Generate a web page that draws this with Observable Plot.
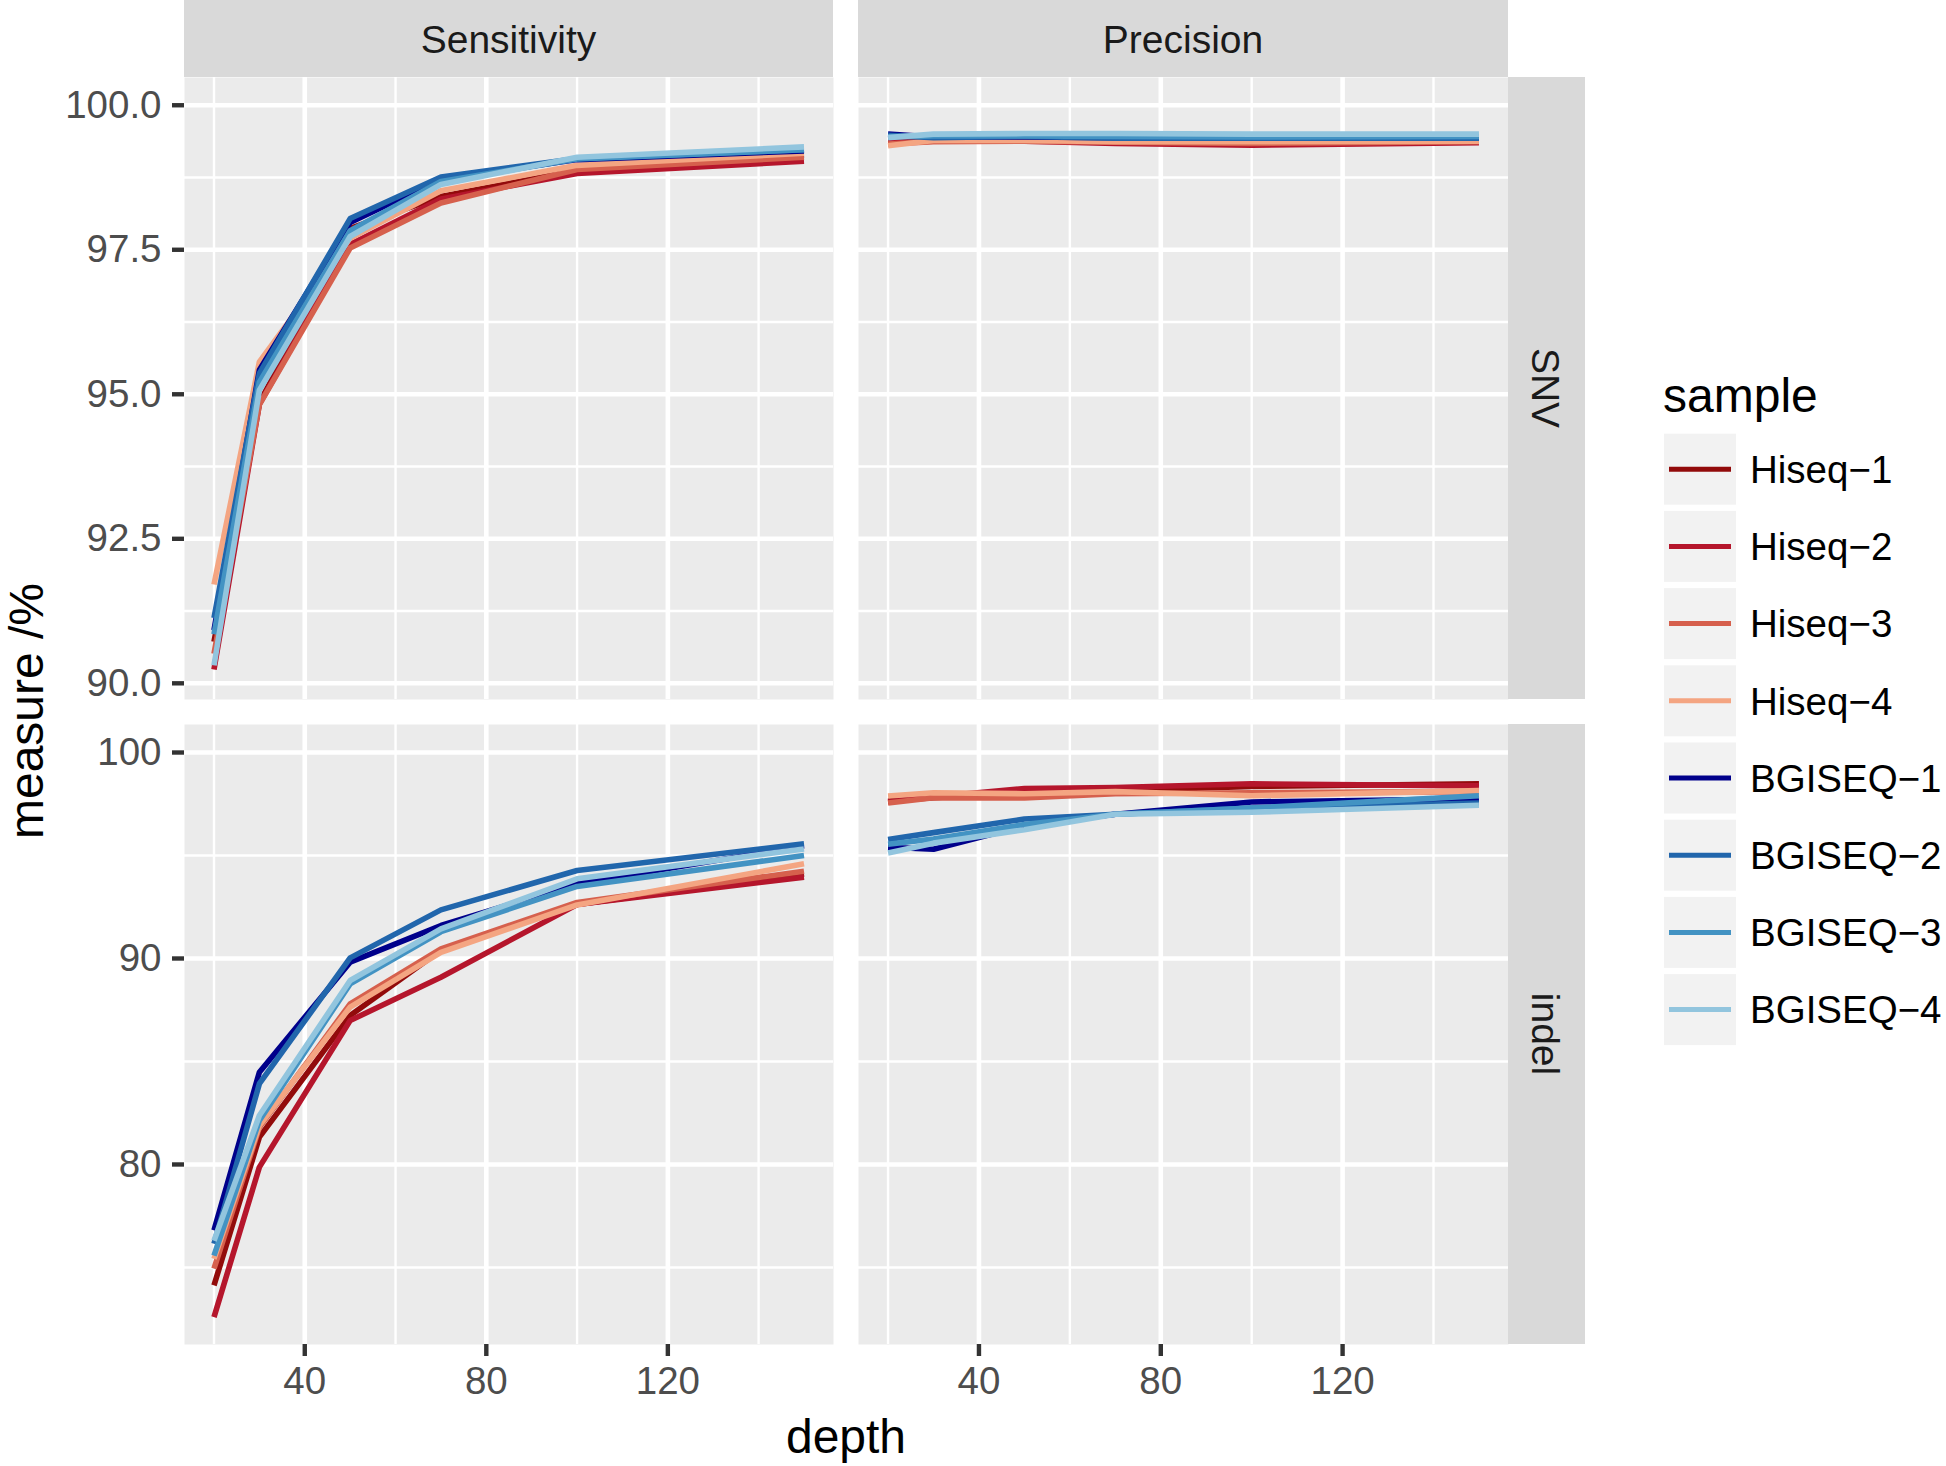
<!DOCTYPE html>
<html><head><meta charset="utf-8">
<script src="https://cdn.jsdelivr.net/npm/d3@7"></script>
<script src="https://cdn.jsdelivr.net/npm/@observablehq/plot@0.6"></script>
<style>
body{margin:0;background:#fff;}
#root{position:relative;width:1946px;height:1466px;overflow:hidden;background:#fff;font-family:"Liberation Sans",Arial,Helvetica,sans-serif;}
#root > svg, #root > div{position:absolute;}
</style></head><body><div id="root"></div>
<script>
const FONT = '"Liberation Sans",Arial,Helvetica,sans-serif';
const depths = [20, 30, 50, 70, 100, 150];
const samples = ["Hiseq\u22121","Hiseq\u22122","Hiseq\u22123","Hiseq\u22124","BGISEQ\u22121","BGISEQ\u22122","BGISEQ\u22123","BGISEQ\u22124"];
const colors = ["#920B0B","#B5162C","#D6604D","#F4A582","#00008B","#2166AC","#4393C3","#92C5DE"];
const columns = ["Sensitivity", "Precision"];
const rows = ["SNV", "indel"];

// values per sample (rows in samples order), per depth (columns in depths order)
const snvSensitivity = [
  [90.72, 94.85, 97.87, 98.42, 98.88, 99.14],
  [90.24, 94.83, 97.59, 98.38, 98.82, 99.03],
  [90.51, 94.82, 97.53, 98.31, 98.89, 99.10],
  [91.71, 95.56, 97.70, 98.52, 98.96, 99.17],
  [90.92, 95.42, 97.97, 98.72, 99.06, 99.21],
  [91.13, 95.36, 98.04, 98.76, 99.08, 99.23],
  [90.85, 95.21, 97.83, 98.68, 99.07, 99.23],
  [90.31, 95.07, 97.73, 98.63, 99.10, 99.28]
];
const snvPrecision = [
  [99.38, 99.40, 99.40, 99.38, 99.36, 99.38],
  [99.36, 99.38, 99.38, 99.34, 99.31, 99.35],
  [99.33, 99.37, 99.38, 99.36, 99.34, 99.37],
  [99.30, 99.39, 99.39, 99.37, 99.37, 99.38],
  [99.50, 99.45, 99.45, 99.44, 99.44, 99.44],
  [99.48, 99.44, 99.46, 99.43, 99.43, 99.43],
  [99.45, 99.47, 99.47, 99.46, 99.45, 99.46],
  [99.44, 99.50, 99.51, 99.51, 99.50, 99.50]
];
const indelSensitivity = [
  [74.13, 81.33, 87.23, 90.40, 92.62, 94.10],
  [72.59, 79.87, 86.99, 89.09, 92.62, 93.95],
  [74.94, 81.80, 87.80, 90.47, 92.72, 94.24],
  [75.42, 81.89, 87.64, 90.30, 92.60, 94.60],
  [76.80, 84.48, 89.82, 91.60, 93.63, 95.47],
  [76.15, 83.92, 90.03, 92.36, 94.27, 95.57],
  [75.58, 82.14, 88.77, 91.30, 93.50, 95.00],
  [76.30, 82.38, 88.93, 91.44, 93.87, 95.32]
];
const indelPrecision = [
  [97.65, 97.80, 98.05, 98.15, 98.35, 98.48],
  [97.60, 97.85, 98.25, 98.30, 98.48, 98.38],
  [97.55, 97.80, 97.80, 98.00, 98.05, 98.10],
  [97.89, 98.05, 98.00, 98.10, 97.90, 98.15],
  [95.40, 95.30, 96.45, 97.00, 97.60, 97.75],
  [95.78, 96.11, 96.77, 97.00, 97.30, 97.55],
  [95.55, 95.80, 96.50, 97.00, 97.30, 97.90],
  [95.12, 95.60, 96.25, 97.00, 97.10, 97.44]
];

const xDomain = [13.5, 156.5];
const xMajor = [40, 80, 120];
const xMinor = [20, 60, 100, 140];
const snvDomain = [89.72, 100.48];
const snvMajor = [90, 92.5, 95, 97.5, 100];
const snvMinor = [91.25, 93.75, 96.25, 98.75];
const indelDomain = [71.26, 101.36];
const indelMajor = [80, 90, 100];
const indelMinor = [75, 85, 95];

const root = document.getElementById("root");

function panel(o) {
  const data = [];
  samples.forEach((s, i) => depths.forEach((d, j) => data.push({sample: s, depth: d, value: o.values[i][j]})));
  const marks = [
    Plot.frame({fill: "#EBEBEB", stroke: "none"}),
    Plot.ruleX(xMinor, {stroke: "#FFFFFF", strokeWidth: 2.4}),
    Plot.ruleY(o.yMinor, {stroke: "#FFFFFF", strokeWidth: 2.4}),
    Plot.ruleX(xMajor, {stroke: "#FFFFFF", strokeWidth: 4.6}),
    Plot.ruleY(o.yMajor, {stroke: "#FFFFFF", strokeWidth: 4.6}),
    Plot.line(data, {x: "depth", y: "value", z: "sample", stroke: "sample", strokeWidth: 5.6, strokeLinejoin: "round", strokeLinecap: "butt"})
  ];
  if (o.showY) marks.push(Plot.axisY({ticks: o.yMajor, tickFormat: o.yFormat, tickSize: 12, tickPadding: 11, stroke: "#333333", strokeWidth: 4.4, fill: "#4D4D4D", fontSize: 38.5, label: null}));
  if (o.showX) marks.push(Plot.axisX({ticks: xMajor, tickFormat: d3.format("d"), tickSize: 12, tickPadding: 10, stroke: "#333333", strokeWidth: 4.4, fill: "#4D4D4D", fontSize: 38.5, label: null}));
  const svg = Plot.plot({
    width: o.width, height: o.height,
    marginLeft: o.mL, marginRight: 0, marginTop: 0, marginBottom: o.mB,
    style: {background: "transparent", fontFamily: FONT, overflow: "visible"},
    x: {domain: xDomain, label: null, ...(o.showX ? {} : {axis: null})},
    y: {domain: o.yDomain, label: null, ...(o.showY ? {} : {axis: null})},
    color: {domain: samples, range: colors},
    marks
  });
  svg.style.position = "absolute";
  svg.style.left = o.left + "px";
  svg.style.top = o.top + "px";
  root.appendChild(svg);
}

const fmt1 = d3.format(".1f"), fmt0 = d3.format("d");
panel({values: snvSensitivity, yDomain: snvDomain, yMajor: snvMajor, yMinor: snvMinor, yFormat: fmt1, showY: true, showX: false, left: 0, top: 77, width: 833, height: 622, mL: 184, mB: 0});
panel({values: snvPrecision, yDomain: snvDomain, yMajor: snvMajor, yMinor: snvMinor, yFormat: fmt1, showY: false, showX: false, left: 858, top: 77, width: 650, height: 622, mL: 0, mB: 0});
panel({values: indelSensitivity, yDomain: indelDomain, yMajor: indelMajor, yMinor: indelMinor, yFormat: fmt0, showY: true, showX: true, left: 0, top: 724, width: 833, height: 742, mL: 184, mB: 122});
panel({values: indelPrecision, yDomain: indelDomain, yMajor: indelMajor, yMinor: indelMinor, yFormat: fmt0, showY: false, showX: true, left: 858, top: 724, width: 650, height: 742, mL: 0, mB: 122});

// strips, titles, legend
const ov = d3.select(root).append("svg")
  .attr("width", 1946).attr("height", 1466)
  .style("left", "0px").style("top", "0px").style("pointer-events", "none")
  .attr("font-family", FONT);

const colStrips = [{x: 184, w: 649}, {x: 858, w: 650}];
columns.forEach((c, i) => {
  ov.append("rect").attr("x", colStrips[i].x).attr("y", 0).attr("width", colStrips[i].w).attr("height", 77).attr("fill", "#D9D9D9");
  ov.append("text").attr("x", colStrips[i].x + colStrips[i].w / 2).attr("y", 53).attr("text-anchor", "middle")
    .attr("font-size", 39).attr("fill", "#1A1A1A").text(c);
});
const rowStrips = [{y: 77, h: 622}, {y: 724, h: 620}];
rows.forEach((r, i) => {
  ov.append("rect").attr("x", 1508).attr("y", rowStrips[i].y).attr("width", 77).attr("height", rowStrips[i].h).attr("fill", "#D9D9D9");
  ov.append("text").attr("transform", `translate(1546,${rowStrips[i].y + rowStrips[i].h / 2}) rotate(90)`)
    .attr("y", 14).attr("text-anchor", "middle").attr("font-size", 39).attr("fill", "#1A1A1A").text(r);
});

ov.append("text").attr("x", 846).attr("y", 1453).attr("text-anchor", "middle").attr("font-size", 48).attr("fill", "#000").text("depth");
ov.append("text").attr("transform", "translate(43,711) rotate(-90)").attr("text-anchor", "middle").attr("font-size", 48).attr("fill", "#000").text("measure /%");

ov.append("text").attr("x", 1663).attr("y", 412).attr("font-size", 48).attr("fill", "#000").text("sample");
samples.forEach((s, i) => {
  const top = 433.7 + 77.2 * i;
  ov.append("rect").attr("x", 1664).attr("y", top).attr("width", 72).attr("height", 71).attr("fill", "#F2F2F2");
  ov.append("line").attr("x1", 1669).attr("x2", 1731).attr("y1", top + 35.5).attr("y2", top + 35.5)
    .attr("stroke", colors[i]).attr("stroke-width", 5);
  ov.append("text").attr("x", 1750).attr("y", top + 35.5 + 13.8).attr("font-size", 38.5).attr("fill", "#000").text(s);
});
</script></body></html>
